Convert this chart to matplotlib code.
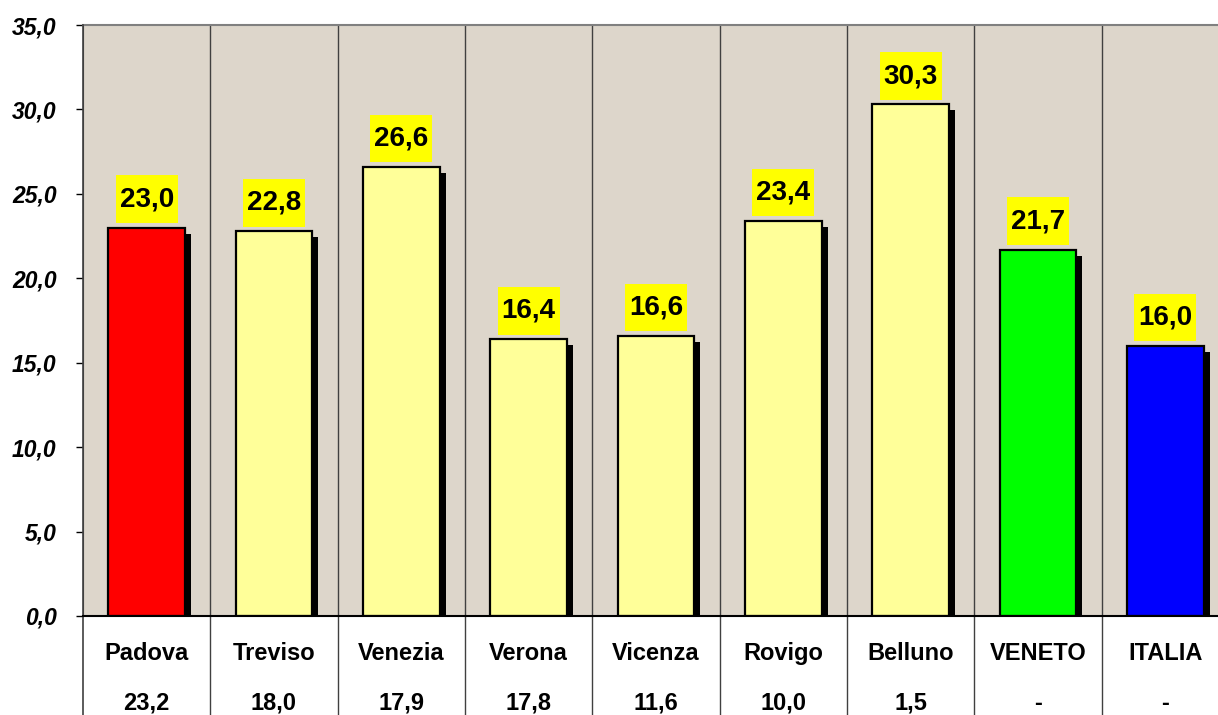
import numpy as np
import matplotlib
matplotlib.use('Agg')
import matplotlib.pyplot as plt
import matplotlib.patheffects as pe

plt.rcParams['font.family'] = ['Liberation Sans', 'DejaVu Sans']

provinces = ['Padova', 'Treviso', 'Venezia', 'Verona', 'Vicenza', 'Rovigo', 'Belluno', 'VENETO', 'ITALIA']
values = [23.0, 22.8, 26.6, 16.4, 16.6, 23.4, 30.3, 21.7, 16.0]
second_row = ['23,2', '18,0', '17,9', '17,8', '11,6', '10,0', '1,5', '-', '-']
bar_colors = ['#FF0000', '#FFFF99', '#FFFF99', '#FFFF99', '#FFFF99', '#FFFF99', '#FFFF99', '#00FF00', '#0000FF']
yticks = np.arange(0, 36, 5)

fig = plt.figure(figsize=(12.18, 7.15), dpi=100)
ax = fig.add_axes([83/1218, 99/715, 1146/1218, 591/715])
ax.set_facecolor('#DDD6CB')

x = np.arange(len(provinces))
shadow = [pe.SimplePatchShadow(offset=(4.3, -4.3), shadow_rgbFace='black', alpha=1), pe.Normal()]
bars = ax.bar(x, values, width=0.6, color=bar_colors, edgecolor='black', linewidth=1.6, zorder=3)
for b in bars:
    b.set_path_effects(shadow)

for xi, v in zip(x, values):
    ax.annotate(f'{v:.1f}'.replace('.', ','), (xi, v), xytext=(0, 11), textcoords='offset points',
                ha='center', va='bottom', fontsize=20, fontweight='bold', zorder=4,
                bbox=dict(boxstyle='square,pad=0.14', facecolor='#FFFF00', edgecolor='none', mutation_aspect=2.8))

ax.set_xlim(-0.5, len(provinces) - 0.5)
ax.set_ylim(0, 35)
ax.set_yticks(yticks)
ax.set_yticklabels([f'{t:.1f}'.replace('.', ',') for t in yticks], fontsize=16.5, fontweight='bold', fontstyle='italic')
ax.tick_params(axis='y', length=5, width=1, pad=14)
ax.set_xticks([])

# category dividers, continuing down into the table
trans = ax.get_xaxis_transform()
for b in np.arange(0.5, len(provinces) - 0.5, 1):
    ax.plot([b, b], [-0.2, 1], color='#404040', lw=1, transform=trans, clip_on=False, zorder=2)
ax.plot([-0.5, -0.5], [-0.2, 1], color='#404040', lw=1.2, transform=trans, clip_on=False, zorder=5)

ax.spines['right'].set_visible(False)
ax.spines['top'].set_color('#808080')
ax.spines['top'].set_linewidth(1.5)
ax.spines['left'].set_color('#404040')
ax.spines['bottom'].set_color('black')
ax.spines['bottom'].set_linewidth(1.5)
ax.spines['bottom'].set_zorder(6)

for xi, name, s in zip(x, provinces, second_row):
    ax.text(xi, -0.063, name, transform=trans, ha='center', va='center', fontsize=17, fontweight='bold')
    ax.text(xi, -0.148, s, transform=trans, ha='center', va='center', fontsize=17, fontweight='bold')

fig.savefig('out.png', dpi=100)
